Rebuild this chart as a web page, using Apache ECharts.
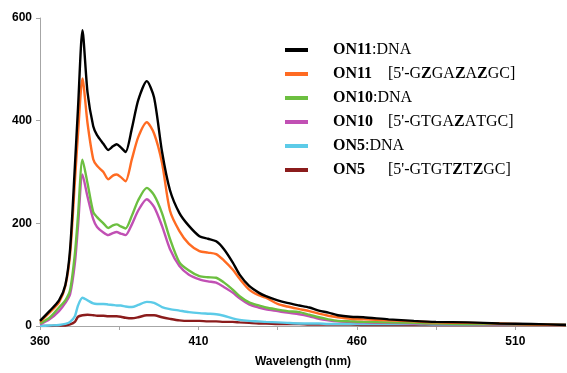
<!DOCTYPE html>
<html>
<head>
<meta charset="utf-8">
<script src="https://cdn.jsdelivr.net/npm/echarts@6/dist/echarts.min.js"></script>
<style>
  html, body { margin: 0; padding: 0; background: #fff; }
  #chart { width: 567px; height: 373px; }
</style>
</head>
<body>
<div id="chart"></div>
<script>
// wavelengths (nm) shared by all spectra
const wavelengths = [360, 363, 366, 368, 369.5, 371, 372, 373.4, 375, 376.8, 378, 380, 381.5, 383, 384.2, 385.5, 387, 389, 391, 393.7,
  396, 398.5, 401, 404, 407, 410.3, 413, 415.6, 418, 420.8, 423, 426, 429, 431.3, 435, 438, 441.8, 445, 448, 451,
  454, 458, 462, 470, 478, 485, 495, 505, 515, 526];

const on11Dna = [10, 29, 50, 80, 150, 310, 425, 576, 455, 389, 372, 355, 343, 350, 354, 348, 339, 385, 440, 477,
  445, 340, 265, 220, 195, 175, 170, 165, 150, 124, 100, 78, 65, 58, 50, 45, 40, 36, 30, 26,
  21, 18, 17, 13, 10, 8, 7, 5, 4, 2];
const on11 = [8, 26, 46, 78, 140, 280, 375, 482, 395, 325, 312, 300, 286, 293, 295, 290, 282, 325, 368, 397,
  375, 318, 225, 185, 160, 146, 143, 140, 128, 110, 92, 71, 60, 55, 43, 38, 33, 29, 24, 20,
  17, 14, 13, 11, 9, 7, 6, 5, 3, 2];
const on10Dna = [5, 16, 36, 50, 70, 140, 215, 324, 278, 222, 212, 200, 191, 196, 198, 194, 190, 215, 245, 269,
  255, 220, 170, 124, 108, 97, 95, 94, 85, 71, 58, 46, 40, 36, 32, 29, 27, 22, 17, 13,
  10, 9, 8, 7, 6, 5, 4, 4, 3, 2];
const on10 = [3, 13, 29, 45, 62, 122, 195, 295, 252, 208, 193, 182, 177, 181, 183, 180, 177, 198, 225, 247,
  232, 195, 150, 117, 100, 91, 87, 84.5, 76, 65, 54, 42, 36, 32.5, 29, 26, 23, 19, 14, 11,
  9, 8, 7, 6, 5, 4, 4, 3, 3, 2];
const on5Dna = [0, 1, 2, 4, 8, 19, 40, 55, 50, 44, 43, 43, 42, 41, 40, 40, 38, 37, 41, 47,
  45, 37, 33, 30, 27, 25, 24, 23, 20, 15, 12, 10, 9, 8, 7, 6, 5, 5, 5, 4,
  4, 4, 4, 4, 4, 3, 3, 3, 3, 3];
const on5 = [0, 0, 1, 1, 3, 8, 18, 21, 22, 21, 20, 20, 19, 19, 19, 18, 16, 15, 17, 21,
  21, 17, 14, 11, 10, 10, 9, 9, 8, 8, 7, 6, 5, 5, 4, 4, 4, 3, 3, 3,
  3, 3, 2, 2, 2, 2, 2, 2, 2, 2];

const seriesNames = [
  'ON11:DNA',
  'ON11|[5\'-GZGAZAZGC]',
  'ON10:DNA',
  'ON10|[5\'-GTGAZATGC]',
  'ON5:DNA',
  'ON5|[5\'-GTGTZTZGC]'
];
const seriesValues = [on11Dna, on11, on10Dna, on10, on5Dna, on5];
const seriesColors = ['#000000', '#ff6b22', '#6cbf40', '#c150b4', '#5ccbe8', '#8b1c1c'];

const xTicks = [360, 410, 460, 510];

function legendLabel(name) {
  if (name.indexOf('|') < 0) {
    const i = name.indexOf(':');
    return '{b|' + name.slice(0, i) + '}{r|' + name.slice(i) + '}';
  }
  const parts = name.split('|');
  // bold the Z letters of the sequence
  const seq = parts[1].split('').map((ch) => (ch === 'Z' ? '{z|Z}' : '{r|' + ch + '}')).join('');
  return '{bw|' + parts[0] + '}' + seq;
}

const chart = echarts.init(document.getElementById('chart'), null, { renderer: 'canvas' });

const serif = '"Liberation Serif", "Times New Roman", serif';
const sans = '"Liberation Sans", Arial, sans-serif';

chart.setOption({
  animation: false,
  grid: { left: 40, top: 18, right: 1, bottom: 46, containLabel: false },
  legend: {
    orient: 'vertical',
    left: 280,
    top: 36,
    itemGap: 6,
    itemWidth: 23,
    itemHeight: 4,
    icon: 'rect',
    data: seriesNames,
    formatter: legendLabel,
    textStyle: {
      fontFamily: serif,
      fontSize: 16,
      color: '#000',
      lineHeight: 18,
      padding: [0, 0, 0, 20],
      rich: {
        b: { fontFamily: serif, fontSize: 16, fontWeight: 'bold', color: '#000' },
        bw: { fontFamily: serif, fontSize: 16, fontWeight: 'bold', color: '#000', width: 55 },
        r: { fontFamily: serif, fontSize: 16, color: '#000' },
        z: { fontFamily: serif, fontSize: 16, fontWeight: 'bold', color: '#000' }
      }
    }
  },
  xAxis: {
    type: 'value',
    min: 360,
    max: 526,
    interval: 25,
    name: 'Wavelength (nm)',
    nameLocation: 'middle',
    nameGap: 30,
    nameTextStyle: { fontFamily: sans, fontSize: 12, fontWeight: 'bold', color: '#000' },
    axisLine: { show: true, lineStyle: { color: '#a6a6a6', width: 1 } },
    axisTick: { show: true, inside: false, length: 4, lineStyle: { color: '#a6a6a6' } },
    splitLine: { show: false },
    axisLabel: {
      margin: 10,
      fontFamily: sans,
      fontSize: 12,
      fontWeight: 'bold',
      color: '#000',
      showMaxLabel: false,
      formatter: (v) => (xTicks.indexOf(v) >= 0 ? String(v) : '')
    }
  },
  yAxis: {
    type: 'value',
    min: 0,
    max: 600,
    interval: 200,
    axisLine: { show: true, lineStyle: { color: '#a6a6a6', width: 1 } },
    axisTick: { show: true, length: 4, lineStyle: { color: '#a6a6a6' } },
    splitLine: { show: false },
    axisLabel: {
      margin: 8,
      fontFamily: sans,
      fontSize: 12,
      fontWeight: 'bold',
      color: '#000'
    }
  },
  series: seriesNames.map((name, i) => ({
    name: name,
    type: 'line',
    data: wavelengths.map((w, j) => [w, seriesValues[i][j]]),
    showSymbol: false,
    smooth: 0.25,
    z: 10 - i,
    color: seriesColors[i],
    lineStyle: { width: 2.4, color: seriesColors[i] }
  }))
});
</script>
</body>
</html>
